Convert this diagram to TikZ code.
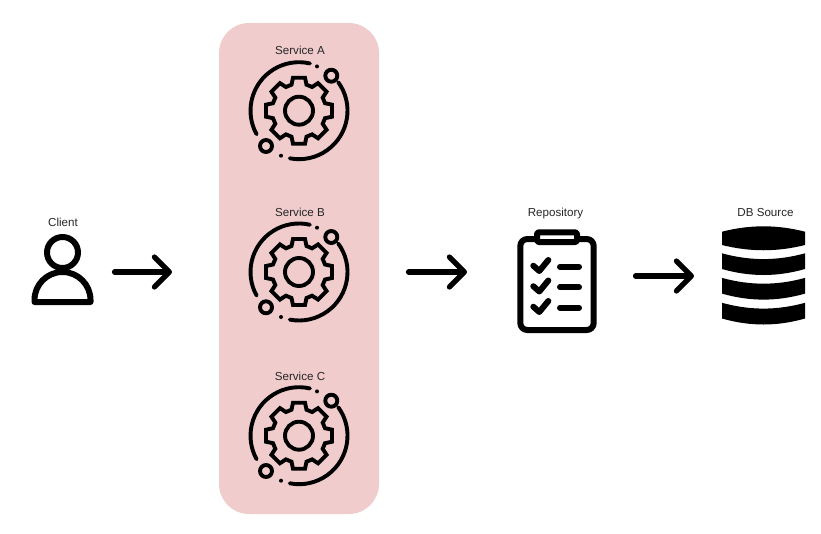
\documentclass[tikz,border=0pt]{standalone}
\usepackage{fontspec}
\setmainfont{Liberation Sans}
\usetikzlibrary{arrows.meta}
\definecolor{panel}{RGB}{240,204,204}
\tikzset{
  x=1pt,y=1pt,
  lbl/.style={font=\fontsize{11.6}{13}\selectfont,text=black!85,inner sep=0pt,anchor=base},
  flow/.style={line width=5.2pt,line cap=round,black,-{Straight Barb[length=15pt,width=30pt,round,line width=5.2pt]}},
  ic/.style={line width=3.9pt,line cap=round,line join=round,black},
  icb/.style={line width=6pt,line cap=round,line join=round,black},
  pics/gearicon/.style={code={
    \draw[ic] (0,0) circle (14);
    \draw[ic,line join=miter] (26,-7.5)
      \foreach \a in {0,45,...,315}{ -- ([rotate=\a]26,-7.5) -- ([rotate=\a]33,-6) -- ([rotate=\a]33,6) -- ([rotate=\a]26,7.5)} -- cycle;
    \draw[ic] (77:48.5) arc[start angle=77,end angle=209,radius=48.5];
    \draw[ic] (36:48.5) arc[start angle=36,end angle=-101,radius=48.5];
    \draw[ic] (32.3,35) circle (6);
    \draw[ic] (-33,-35.3) circle (6);
    \fill (18,44.3) circle (2);
    \fill (-18,-45) circle (2);
  }},
  pics/dbslab/.style={code={
    \fill (722,-253.3) .. controls (750,-261) and (777,-261) .. (805,-253.3) -- (805,-269) .. controls (777,-277) and (750,-277) .. (722,-269) -- cycle;
  }}
}
\begin{document}
\begin{tikzpicture}
\useasboundingbox (0,0) rectangle (821,-533);
\node[fill=panel,rounded corners=30pt,minimum width=160pt,minimum height=491pt,inner sep=0pt] (services) at (299,-268.5) {};
% labels
\node[lbl] (lclient) at (63,-226) {Client};
\node[lbl] (lsa) at (300,-54.5) {Service A};
\node[lbl] (lsb) at (300,-216) {Service B};
\node[lbl] (lsc) at (300,-380) {Service C};
\node[lbl] (lrepo) at (555.5,-216) {Repository};
\node[lbl] (ldb) at (765.5,-216) {DB Source};
% gears
\pic at (299,-110.7) {gearicon};
\pic at (299,-272) {gearicon};
\pic at (299,-435.7) {gearicon};
% client
\draw[icb] (62.5,-252.5) circle (15.5);
\draw[icb] (34.5,-302) -- (34.5,-300) arc[start angle=180,end angle=0,radius=28] -- (90.5,-302) -- cycle;
% repository
\draw[icb,rounded corners=7pt,fill=white] (520.3,-239) rectangle (593.7,-330);
\draw[icb,rounded corners=2pt,fill=white] (537,-232.3) rectangle (577,-242);
\foreach \y in {0,20.5,41}{
  \draw[icb] (533.3,-265.7-\y) -- (539.3,-271-\y) -- (548.3,-260-\y);
  \draw[icb] (560,-266.7-\y) -- (579,-266.7-\y);
}
% database
\fill (722,-231.7) .. controls (750,-224.5) and (777,-224.5) .. (805,-231.7) -- (805,-245) .. controls (777,-252) and (750,-252) .. (722,-245) -- cycle;
\pic at (0,0) {dbslab};
\pic at (0,-24.6) {dbslab};
\pic at (0,-49.5) {dbslab};
% connector ends
\coordinate (a1) at (114.5,-272);
\coordinate (a2) at (172,-272);
\coordinate (b1) at (408.5,-272);
\coordinate (b2) at (467,-272);
\coordinate (c1) at (635.5,-276);
\coordinate (c2) at (694,-276);
\draw[flow] (a1) -- (a2);
\draw[flow] (b1) -- (b2);
\draw[flow] (c1) -- (c2);
\end{tikzpicture}
\end{document}
